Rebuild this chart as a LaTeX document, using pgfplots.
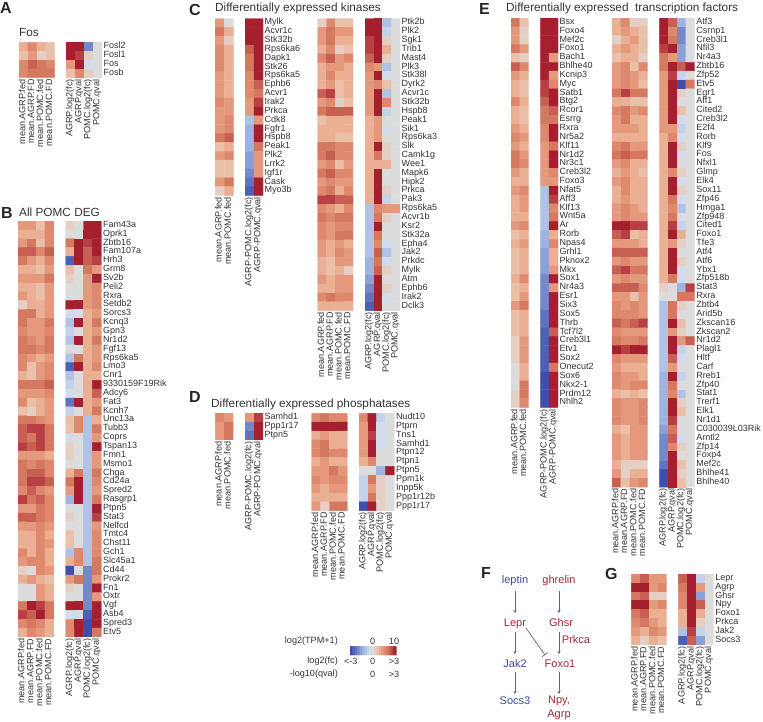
\documentclass[border=0pt]{standalone}
\usepackage{fontspec}
\setmainfont{Liberation Sans}
\usepackage{pgfplots}
\usepackage{pgfplotstable}
\pgfplotsset{compat=1.18}
\usetikzlibrary{arrows.meta}

\definecolor{txt}{HTML}{333333}
\definecolor{pred}{HTML}{A3283A}
\definecolor{pblue}{HTML}{3A4A9F}
\definecolor{parrow}{HTML}{666666}

% levels -9 .. 9: blue, grey at 0, red
\pgfplotsset{
  colormap={cw}{
    rgb255=(63,78,173) rgb255=(75,96,182) rgb255=(94,116,192) rgb255=(115,137,204)
    rgb255=(138,160,214) rgb255=(157,179,224) rgb255=(176,195,230) rgb255=(197,210,235)
    rgb255=(211,220,236) rgb255=(220,220,220) rgb255=(229,206,195) rgb255=(234,192,168)
    rgb255=(235,175,148) rgb255=(228,152,124) rgb255=(222,137,109) rgb255=(212,120,96)
    rgb255=(199,95,82) rgb255=(184,64,69) rgb255=(165,31,46)
  },
}

\newcommand\fs[1]{\fontsize{#1}{#1}\selectfont}
\def\hmread#1{\pgfplotstableread[row sep=crcr]{#1}\hmtab}

% \hm{left}{top}{right}{cols}{rows}{x labels}{gene labels}{cells, row by row}
\newcommand\hm[8]{%
  \def\hmt{z\\}%
  \pgfplotsforeachungrouped \v in {#8}{\edef\hmt{\unexpanded\expandafter{\hmt}\v\unexpanded{\\}}}%
  \expandafter\hmread\expandafter{\hmt}%
  \pgfmathsetmacro\hmw{#3-#1}%
  \pgfmathsetmacro\hmh{#5*8.85}%
  \pgfmathtruncatemacro\hmxl{#4-1}%
  \pgfmathtruncatemacro\hmyl{#5-1}%
  \begin{axis}[
    at={(#1pt,-#2pt)}, anchor=north west, scale only axis,
    width=\hmw pt, height=\hmh pt,
    xmin=-0.5, xmax=#4-0.5, ymin=-0.5, ymax=#5-0.5, y dir=reverse,
    colormap name=cw, point meta min=-9, point meta max=9,
    axis line style={draw=none}, major tick length=0pt,
    xtick={0,...,\hmxl}, ytick={0,...,\hmyl},
    xticklabels={#6}, yticklabels={#7},
    xticklabel pos=lower, yticklabel pos=right,
    typeset ticklabels with strut,
    x tick label style={rotate=90, anchor=east, font=\fs{9.1}, text=txt, inner sep=1.5pt},
    y tick label style={anchor=west, font=\fs{9}, text=txt, inner sep=1.5pt},
  ]
    \addplot[matrix plot*, mesh/cols=#4, point meta=\thisrow{z}]
      table[x index=0, y index=0, x expr={mod(\coordindex,#4)}, y expr={floor((\coordindex+0.5)/#4)}] {\hmtab};
  \end{axis}%
}

\begin{document}
\begin{tikzpicture}[x=1pt,y=1pt]
\useasboundingbox (0,0) rectangle (763,-721);

% ---- A
\hm{19}{42.3}{54.7}{4}{4}{mean.AGRP.fed,mean.AGRP.FD,mean.POMC.fed,mean.POMC.FD}{}{
3,5,3,2, 2,4,1,2, 5,7,6,5, 5,6,6,6}
\hm{66}{42.3}{102}{4}{4}{AGRP.log2(fc),AGRP.qval,POMC.log2(fc),POMC.qval}{Fosl2,Fosl1,Fos,Fosb}{
9,9,-6,0, 9,8,1,0, 4,9,-1,0, 2,5,1,0}

% ---- B
\hm{18}{221}{54}{4}{47}{mean.AGRP.fed,mean.AGRP.FD,mean.POMC.fed,mean.POMC.FD}{}{
4,4,2,5, 3,3,3,5, 4,6,2,5, 7,7,5,7, 6,4,3,5, 3,3,2,4, 4,4,4,6, 3,3,2,4,
4,3,2,4, 1,3,3,4, 6,6,3,4, 6,4,4,6, 5,4,4,5, 6,5,4,6, 6,6,5,6, 5,4,3,4,
5,2,4,5, 3,2,4,5, 6,6,6,7, 4,4,4,5, 5,2,3,4, 2,1,3,4, 6,6,5,4, 7,8,8,6,
7,6,8,6, 8,7,8,6, 4,4,4,3, 6,5,6,5, 6,7,7,5, 6,8,8,7, 5,7,5,4, 8,6,7,5,
4,4,6,5, 7,7,6,5, 4,4,5,4, 3,3,5,3, 3,3,5,4, 5,3,5,3, 4,5,5,3, 1,0,5,4,
3,4,3,2, 0,0,4,3, 0,0,4,3, 6,9,8,6, 8,7,9,6, 5,6,5,3, 3,5,4,3}
\hm{65.7}{221}{101.3}{4}{47}{AGRP.log2(fc),AGRP.qval,POMC.log2(fc),POMC.qval}{Fam43a,Oprk1,Zbtb16,Fam107a,Hrh3,Grm8,Sv2b,Peli2,Rxra,Setdb2,Sorcs3,Kcnq3,Gpn3,Nr1d2,Fgf13,Rps6ka5,Lmo3,Cnr1,9330159F19Rik,Adcy6,Fat3,Kcnh7,Unc13a,Tubb3,Coprs,Tspan13,Fmn1,Msmo1,Chga,Cd24a,Spred2,Rasgrp1,Ptpn5,Stat3,Nelfcd,Tmtc4,Chst11,Gch1,Slc45a1,Cd44,Prokr2,Fn1,Oxtr,Vgf,Asb4,Spred3,Etv5}{
1,0,9,9, 0,0,9,9, 6,9,8,9, 3,9,7,9, -8,9,7,8, 2,0,6,4, 1,0,4,9, 0,0,4,5,
0,0,4,5, 9,9,4,5, -1,-1,3,4, -3,9,3,6, -2,0,3,4, -3,9,3,6, 0,0,3,4, -3,6,3,4,
-8,9,3,5, -3,0,3,3, -2,0,3,9, -1,0,3,7, -7,9,3,4, -2,0,3,6, 2,5,-3,3, 2,5,-3,6,
-1,0,-3,4, 1,0,-3,9, 1,0,-3,4, 0,0,-3,4, 3,6,-3,6, 6,9,-3,5, 4,9,-3,4, -4,9,-3,6,
0,0,-3,9, 1,0,-3,8, 0,0,-3,4, 2,0,-3,5, 2,0,-3,5, -3,5,-3,5, 3,5,-3,6, -9,0,-6,6,
4,6,-6,4, 1,0,-6,9, 0,0,-6,4, 9,9,-6,9, -1,-1,-8,9, 5,9,-9,9, 5,9,-9,6}

% ---- C
\hm{215}{18.5}{233.5}{2}{20}{mean.AGRP.fed,mean.POMC.fed}{}{
4,0, 6,3, 4,1, 5,3, 5,3, 5,3, 4,3, 4,3, 4,3, 5,4,
4,4, 4,5, 4,5, 6,7, 2,3, 4,5, 2,2, 2,2, 4,6, 1,3}
\hm{245}{18.5}{263}{2}{20}{AGRP-POMC.log2(fc),AGRP-POMC.qval}{Mylk,Acvr1c,Stk32b,Rps6ka6,Dapk1,Stk26,Rps6ka5,Ephb6,Acvr1,Irak2,Prkca,Cdk8,Fgfr1,Hspb8,Peak1,Plk2,Lrrk2,Igf1r,Cask,Myo3b}{
9,9, 9,9, 9,9, 7,9, 6,9, 6,9, 5,9, 5,7, 5,6, 4,8,
4,9, -3,4, -4,9, -4,9, -4,6, -5,4, -5,4, -6,4, -7,9, -8,9}
\hm{317.7}{18.5}{353}{4}{33}{mean.AGRP.fed,mean.AGRP.FD,mean.POMC.fed,mean.POMC.FD}{}{
1,5,2,2, 4,6,4,4, 4,6,3,3, 3,5,1,2, 5,7,4,5, 3,4,4,3, 3,5,3,3, 3,4,2,3,
7,8,2,3, 4,5,1,2, 6,7,7,7, 2,3,3,3, 3,3,3,3, 3,3,2,2, 6,6,5,5, 6,7,5,5,
4,5,2,4, 6,7,5,5, 4,5,4,4, 5,6,3,5, 8,8,7,7, 5,4,3,5, 6,5,6,6, 5,4,5,5,
5,4,6,6, 4,3,4,3, 4,3,5,4, 3,2,4,4, 3,2,3,1, 4,3,4,4, 3,3,4,4, 5,6,5,5, 3,3,3,3}
\hm{365}{18.5}{400}{4}{33}{AGRP.log2(fc),AGRP.qval,POMC.log2(fc),POMC.qval}{Ptk2b,Plk2,Sgk1,Trib1,Mast4,Plk3,Stk38l,Dyrk2,Acvr1c,Stk32b,Hspb8,Peak1,Sik1,Rps6ka3,Slk,Camk1g,Wee1,Mapk6,Hipk2,Prkca,Pak3,Rps6ka5,Acvr1b,Ksr2,Stk32a,Epha4,Jak2,Prkdc,Mylk,Atm,Ephb6,Irak2,Dclk3}{
9,9,-3,0, 9,9,-2,0, 8,9,1,0, 8,9,3,0, 7,9,1,0, 5,4,-3,0, 4,9,-1,0, 4,5,2,0,
4,9,-3,0, 4,9,5,0, 4,9,-2,0, 3,4,0,0, 3,4,-1,0, 3,4,0,0, 3,9,1,0, 3,6,1,0,
3,3,3,0, 3,9,0,0, 3,9,0,0, 3,9,1,0, 3,9,-2,0, -3,5,4,4, -3,6,1,0, -3,9,0,0,
-3,6,0,0, -3,5,-1,0, -3,7,-3,0, -4,6,-1,0, -4,7,1,0, -5,9,0,0, -6,9,1,0, -7,9,-1,0, -8,9,0,0}

% ---- D
\hm{215.3}{413.3}{233.3}{2}{3}{mean.AGRP.fed,mean.POMC.fed}{}{
5,4, 4,6, 4,6}
\hm{245}{413.3}{263}{2}{3}{AGRP-POMC.log2(fc),AGRP-POMC.qval}{Samhd1,Ppp1r17,Ptpn5}{
4,8, -6,9, -7,9}
\hm{311.7}{413.3}{347.3}{4}{11}{mean.AGRP.fed,mean.AGRP.FD,mean.POMC.fed,mean.POMC.FD}{}{
5,6,5,5, 9,9,9,9, 3,4,3,3, 5,6,3,3, 5,6,5,5, 3,4,3,3, 4,4,6,4, 5,4,5,5,
4,3,4,4, 3,3,3,3, 4,1,6,6}
\hm{359}{413.3}{394.3}{4}{11}{AGRP.log2(fc),AGRP.qval,POMC.log2(fc),POMC.qval}{Nudt10,Ptprn,Tns1,Samhd1,Ptpn12,Ptpn1,Ptpn5,Ppm1k,Inpp5k,Ppp1r12b,Ppp1r17}{
5,9,-2,0, 4,9,-1,0, 4,8,-1,0, 4,9,-1,0, 4,9,0,0, 3,5,0,0, 0,0,-4,9, -2,6,1,0,
-2,4,1,0, -2,6,1,0, -9,9,1,0}

% ---- E
\hm{511}{18}{528.7}{2}{44}{mean.AGRP.fed,mean.POMC.fed}{}{
6,2, 4,1, 4,1, 6,4, 2,1, 7,5, 4,3, 3,2, 3,2, 5,3, 3,2, 3,2, 4,3, 5,4, 4,3,
6,4, 6,5, 4,3, 3,3, 4,5, 3,4, 3,4, 3,3, 4,5, 2,3, 3,4, 2,3, 2,3, 2,3, 3,5,
2,3, 2,4, 4,6, 2,3, 2,3, 2,3, 1,4, 1,4, 1,4, 0,3, 0,3, 0,6, 1,6, 1,5}
\hm{540.3}{18}{558}{2}{44}{AGRP-POMC.log2(fc),AGRP-POMC.qval}{Bsx,Foxo4,Mef2c,Foxo1,Bach1,Bhlhe40,Kcnip3,Myc,Satb1,Btg2,Rcor1,Esrrg,Rxra,Nr5a2,Klf11,Nr1d2,Nr3c1,Creb3l2,Foxo3,Nfat5,Aff3,Klf13,Wnt5a,Ar,Rorb,Npas4,Grhl1,Pknox2,Mkx,Sox1,Nr4a3,Esr1,Six3,Sox5,Thrb,Tcf7l2,Creb3l1,Etv1,Sox2,Onecut2,Sox6,Nkx2-1,Prdm12,Nhlh2}{
9,9, 9,9, 9,9, 9,9, 9,4, 9,9, 9,4, 8,5, 8,9, 7,9, 6,7, 6,6, 5,9, 5,9, 4,6,
4,9, 4,9, 4,5, 4,4, -3,9, -3,8, -3,5, -3,6, -3,9, -4,3, -4,5, -5,3, -5,3, -5,4, -6,9,
-6,4, -6,9, -6,9, -7,9, -7,9, -8,7, -8,9, -8,9, -8,9, -8,6, -9,9, -9,9, -9,9, -9,9}
\hm{612}{18}{647.7}{4}{53}{mean.AGRP.fed,mean.AGRP.FD,mean.POMC.fed,mean.POMC.FD}{}{
3,5,1,1, 3,4,3,2, 1,3,4,2, 3,4,3,2, 2,3,3,1, 4,5,2,5, 4,5,4,3, 4,5,4,2,
6,8,6,6, 3,3,2,2, 5,6,4,5, 4,6,3,3, 4,4,4,3, 3,3,3,3, 5,6,4,4, 6,7,6,6,
4,5,3,3, 3,4,3,2, 4,5,3,3, 3,5,3,3, 3,4,3,3, 4,5,4,3, 4,5,4,4, 9,9,8,8,
7,8,2,3, 4,4,4,3, 7,7,7,7, 4,5,4,4, 7,8,6,6, 4,5,4,4, 7,7,7,5, 4,4,2,4,
5,4,5,4, 5,5,5,4, 7,6,7,8, 5,4,4,4, 6,5,5,6, 9,8,9,9, 5,4,4,4, 4,3,3,3,
5,4,4,3, 5,4,5,5, 3,2,3,2, 5,4,4,5, 5,4,4,5, 5,4,4,5, 3,2,4,4, 4,3,4,4,
4,3,4,4, 4,3,4,4, 3,1,1,1, 4,1,3,3, 7,2,4,5}
\hm{659.3}{18}{694.7}{4}{53}{AGRP.log2(fc),AGRP.qval,POMC.log2(fc),POMC.qval}{Atf3,Csrnp1,Creb3l1,Nfil3,Nr4a3,Zbtb16,Zfp52,Etv5,Egr1,Aff1,Cited2,Creb3l2,E2f4,Rorb,Klf9,Fos,Nfxl1,Glmp,Elk4,Sox11,Zfp46,Hmga1,Zfp948,Cited1,Foxo1,Tfe3,Atf4,Atf6,Ybx1,Zfp518b,Stat3,Rxra,Zbtb4,Arid5b,Zkscan16,Zkscan2,Nr1d2,Plagl1,Hltf,Carf,Rreb1,Zfp40,Stat1,Trerf1,Elk1,Nr1d1,C030039L03Rik,Arntl2,Zfp14,Foxp4,Mef2c,Bhlhe41,Bhlhe40}{
9,7,-4,0, 9,5,-6,0, 9,6,-6,0, 8,9,-5,0, 6,4,-5,0, 6,9,7,9, 4,8,-2,0, 4,9,-9,6,
4,9,1,0, 4,9,0,0, 4,9,2,0, 4,9,-1,0, 4,4,-2,0, 3,5,-1,0, 3,9,1,0, 3,9,-1,0,
3,9,0,0, 3,5,1,0, 3,9,-1,0, 3,9,1,0, 3,6,-1,0, 3,5,-3,0, 3,6,0,0, 3,8,-2,0,
3,9,3,0, 3,4,1,0, 3,9,0,0, 3,9,1,0, 3,9,-1,0, 3,6,-1,0, 1,0,-4,8, 0,0,6,6,
-3,6,1,0, -3,6,0,0, -3,9,2,0, -3,4,1,0, -3,9,4,7, -3,9,-2,0, -3,7,-1,0, -3,4,0,0,
-4,9,-2,0, -4,6,0,0, -4,5,-3,0, -4,9,1,0, -4,9,2,0, -4,8,0,0, -5,6,0,0, -6,7,-1,0,
-6,5,1,0, -6,9,0,0, -7,9,2,0, -9,9,1,0, -9,9,2,0}

% ---- G
\hm{631.3}{574}{666.7}{4}{8}{mean.AGRP.fed,mean.AGRP.FD,mean.POMC.fed,mean.POMC.FD}{}{
5,7,4,4, 9,9,4,5, 6,7,1,1, 9,9,4,5, 6,7,3,3, 5,6,4,3, 4,3,5,4, 3,1,3,2}
\hm{678.3}{574}{713.7}{4}{8}{AGRP.log2(fc),AGRP.qval,POMC.log2(fc),POMC.qval}{Lepr,Agrp,Ghsr,Npy,Foxo1,Prkca,Jak2,Socs3}{
7,9,-2,0, 6,9,4,0, 5,9,-5,0, 5,9,7,0, 3,9,3,0, 3,9,1,0, -3,8,-2,0, -8,7,-5,0}

% ---- legend bar
\begin{axis}[
  at={(350pt,-646.3pt)}, anchor=north west, scale only axis, width=46.3pt, height=8.7pt,
  xmin=-0.5, xmax=18.5, ymin=-0.5, ymax=1.5,
  colormap name=cw, point meta min=-9, point meta max=9, hide axis]
  \addplot[matrix plot*, mesh/cols=19, point meta=\thisrow{z}]
    table[row sep=crcr, x index=0, y index=0, x expr={mod(\coordindex,19)}, y expr={floor((\coordindex+0.5)/19)}] {
    z\\ -9\\ -8\\ -7\\ -6\\ -5\\ -4\\ -3\\ -2\\ -1\\ 0\\ 1\\ 2\\ 3\\ 4\\ 5\\ 6\\ 7\\ 8\\ 9\\
    -9\\ -8\\ -7\\ -6\\ -5\\ -4\\ -3\\ -2\\ -1\\ 0\\ 1\\ 2\\ 3\\ 4\\ 5\\ 6\\ 7\\ 8\\ 9\\
  };
\end{axis}

\begin{scope}[every node/.style={text=txt, font=\fs{9.1}, inner sep=0pt}]
  \node[anchor=east] at (338,-641.3) {log2(TPM+1)};
  \node at (372.7,-641.3) {0};
  \node at (394,-641.3) {10};
  \node[anchor=east] at (338,-661) {log2(fc)};
  \node at (350.7,-661) {<-3};
  \node at (372.7,-661) {0};
  \node at (394,-661) {>3};
  \node[anchor=east] at (338,-674) {-log10(qval)};
  \node at (372.7,-674) {0};
  \node at (394,-674) {>3};
\end{scope}

% ---- titles and panel letters
\begin{scope}[every node/.style={text=txt, font=\fs{11.8}, inner sep=0pt, anchor=west}]
  \node at (19,-32) {Fos};
  \node at (19,-212) {All POMC DEG};
  \node at (215,-8) {Differentially expressed kinases};
  \node at (211,-404) {Differentially expressed phosphatases};
  \node at (506,-8) {Differentially expressed\ \ transcription factors};
\end{scope}
\begin{scope}[every node/.style={text=black!85, font=\fs{16}\bfseries, inner sep=0pt, anchor=base west}]
  \node at (0,-13) {A};
  \node at (1,-218) {B};
  \node at (189,-15) {C};
  \node at (189,-402) {D};
  \node at (479,-14) {E};
  \node at (481,-578) {F};
  \node at (605,-579) {G};
\end{scope}

% ---- pathway F
\begin{scope}[every node/.style={font=\fs{11}, inner sep=0pt}]
  \node[text=pblue] at (515,-581) {leptin};
  \node[text=pred] at (515,-624) {Lepr};
  \node[text=pblue] at (515,-664) {Jak2};
  \node[text=pblue] at (515,-701) {Socs3};
  \node[text=pred] at (559,-581) {ghrelin};
  \node[text=pred] at (561,-623) {Ghsr};
  \node[text=pred] at (576,-640) {Prkca};
  \node[text=pred] at (560,-664) {Foxo1};
  \node[text=pred] at (559,-701) {Npy,};
  \node[text=pred] at (559,-715) {Agrp};
\end{scope}
\begin{scope}[parrow, line width=0.9pt, -{Stealth[length=3pt,width=3pt]}]
  \draw (515,-591) -- (515,-613);
  \draw (515,-632) -- (515,-654);
  \draw (515,-672) -- (515,-694);
  \draw (559,-591) -- (559,-613);
  \draw (559,-632) -- (559,-654);
  \draw (559,-672) -- (559,-694);
\end{scope}
\draw[parrow, line width=0.7pt, -{Bar[width=7pt]}] (526,-628) -- (545,-655);
\end{tikzpicture}
\end{document}
